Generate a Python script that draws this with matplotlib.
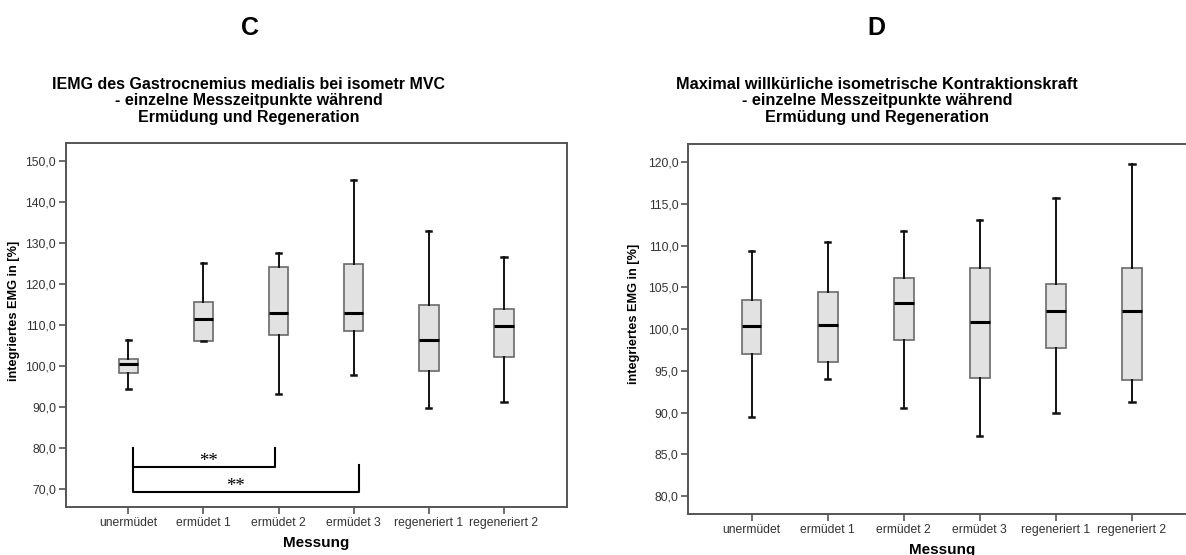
import matplotlib
matplotlib.use('Agg')
import matplotlib.pyplot as plt

plt.rcParams['font.family'] = ['Liberation Sans', 'DejaVu Sans']

CATEGORIES = ['unermüdet', 'ermüdet 1', 'ermüdet 2', 'ermüdet 3', 'regeneriert 1', 'regeneriert 2']

# panel C: IEMG gastrocnemius medialis
C_WHISKER_LOW = [94.3, 106.1, 93.3, 97.9, 89.7, 91.2]
C_Q1 = [98.2, 106.2, 107.6, 108.6, 98.7, 102.3]
C_MEDIAN = [100.4, 111.5, 113.0, 113.0, 106.4, 109.7]
C_Q3 = [101.6, 115.7, 124.1, 124.9, 114.9, 114.0]
C_WHISKER_HIGH = [106.3, 125.0, 127.5, 145.2, 132.9, 126.5]
C_YTICKS = [70, 80, 90, 100, 110, 120, 130, 140, 150]

# significance brackets in panel C: (x start, x end, top of legs, bar level)
C_BRACKETS = [(1.06, 2.95, 80.0, 75.5), (1.06, 4.07, 75.8, 69.3)]
C_STARS = [(2.07, 76.7, '**'), (2.42, 70.8, '**')]

# panel D: maximal voluntary isometric force
D_WHISKER_LOW = [89.5, 94.0, 90.6, 87.2, 90.0, 91.3]
D_Q1 = [97.0, 96.1, 98.7, 94.2, 97.8, 93.9]
D_MEDIAN = [100.4, 100.5, 103.1, 100.9, 102.2, 102.2]
D_Q3 = [103.5, 104.4, 106.1, 107.35, 105.4, 107.35]
D_WHISKER_HIGH = [109.35, 110.5, 111.8, 113.1, 115.7, 119.75]
D_YTICKS = [80, 85, 90, 95, 100, 105, 110, 115, 120]

SPINE = '#555555'


def make_stats(low, q1, med, q3, high):
    return [dict(whislo=a, q1=b, med=c, q3=d, whishi=e, fliers=[])
            for a, b, c, d, e in zip(low, q1, med, q3, high)]


def draw_panel(ax, stats, yticks, ylim):
    ax.bxp(stats, positions=range(1, len(stats) + 1), widths=0.26, patch_artist=True,
           showfliers=False,
           boxprops=dict(facecolor='#e2e2e2', edgecolor='#6a6a6a', linewidth=1.2),
           medianprops=dict(color='black', linewidth=2.2),
           whiskerprops=dict(color='#111111', linewidth=1.4),
           capprops=dict(color='#111111', linewidth=1.8), capwidths=0.07)
    ax.set_xlim(0.17, 6.84)
    ax.set_ylim(*ylim)
    ax.set_yticks(yticks)
    ax.set_yticklabels([f'{v:.1f}'.replace('.', ',') for v in yticks])
    ax.set_xticks(range(1, len(CATEGORIES) + 1))
    ax.set_xticklabels(CATEGORIES)
    for side in ['left', 'bottom', 'top', 'right']:
        ax.spines[side].set_color(SPINE)
        ax.spines[side].set_linewidth(1.4)
    ax.tick_params(axis='both', length=5, width=1.2, color=SPINE, pad=2,
                   labelsize=8.7, labelcolor='#333333')
    ax.set_xlabel('Messung', fontsize=11, fontweight='bold', labelpad=5)
    ax.set_ylabel('integriertes EMG in [%]', fontsize=9.2, fontweight='bold', labelpad=2)


fig = plt.figure(figsize=(11.86, 5.55), dpi=100)

ax_c = fig.add_axes([0.0556, 0.0865, 0.4225, 0.6559])
draw_panel(ax_c, make_stats(C_WHISKER_LOW, C_Q1, C_MEDIAN, C_Q3, C_WHISKER_HIGH), C_YTICKS, (65.7, 154.3))
for x1, x2, y_top, y_bar in C_BRACKETS:
    ax_c.plot([x1, x1, x2, x2], [y_top, y_bar, y_bar, y_top], color='black', linewidth=1.5)
for x, y, s in C_STARS:
    ax_c.text(x, y, s, ha='center', va='center', fontsize=13.5, family='Liberation Serif')
ax_c.yaxis.set_label_coords(-0.092, 0.54)

ax_d = fig.add_axes([0.5804, 0.0733, 0.4280, 0.6672])
draw_panel(ax_d, make_stats(D_WHISKER_LOW, D_Q1, D_MEDIAN, D_Q3, D_WHISKER_HIGH), D_YTICKS, (77.8, 122.2))
ax_d.yaxis.set_label_coords(-0.095, 0.54)

fig.text(250 / 1186, 1 - 28 / 555, 'C', ha='center', va='center', fontsize=18, fontweight='bold')
fig.text(876 / 1186, 1 - 28 / 555, 'D', ha='center', va='center', fontsize=18, fontweight='bold')
fig.text(249 / 1186, 1 - 101 / 555,
         'IEMG des Gastrocnemius medialis bei isometr MVC\n- einzelne Messzeitpunkte während\nErmüdung und Regeneration',
         ha='center', va='center', fontsize=11.5, fontweight='bold', linespacing=1.12)
fig.text(877 / 1186, 1 - 101 / 555,
         'Maximal willkürliche isometrische Kontraktionskraft\n- einzelne Messzeitpunkte während\nErmüdung und Regeneration',
         ha='center', va='center', fontsize=11.7, fontweight='bold', linespacing=1.12)

fig.savefig('out.png', dpi=100)
